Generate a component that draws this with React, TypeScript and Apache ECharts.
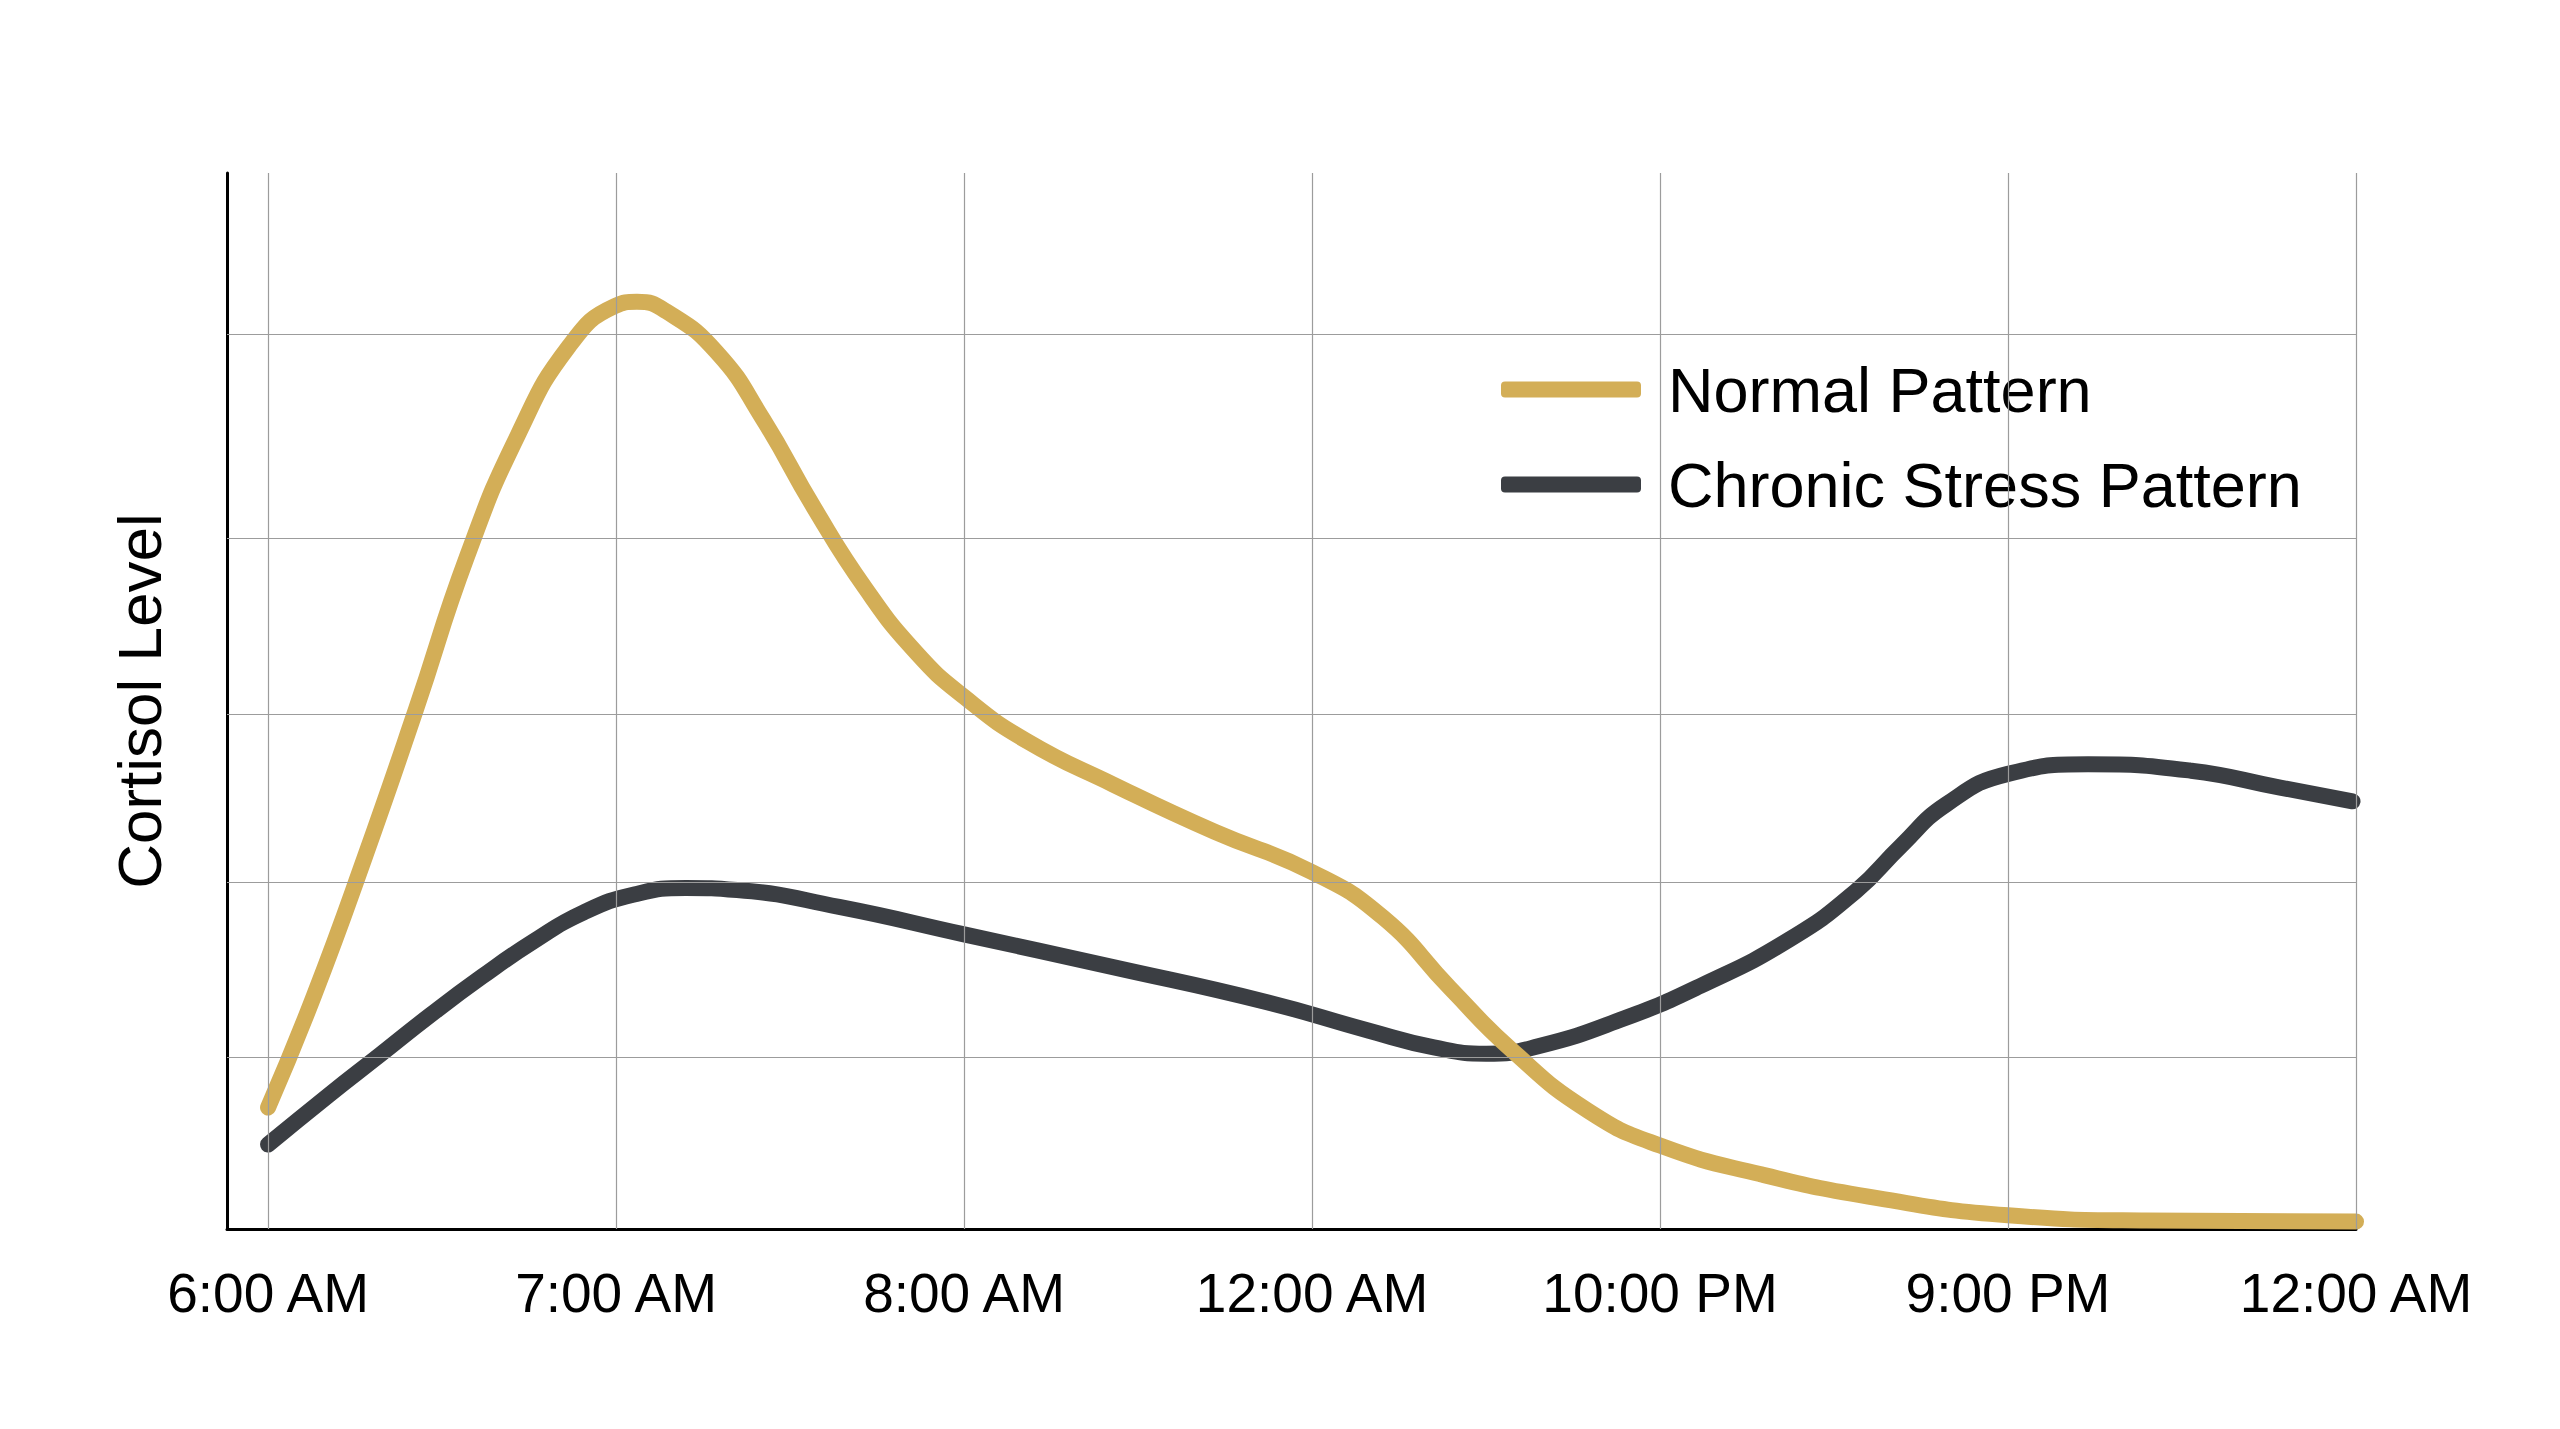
import React, { useEffect, useRef } from "react";
import * as echarts from "echarts";

const timeLabels = ["6:00 AM", "7:00 AM", "8:00 AM", "12:00 AM", "10:00 PM", "9:00 PM", "12:00 AM"];
const timePositions = [0, 1, 2, 3, 4, 5, 6];
const gridLevels = [16.3, 32.8, 48.7, 65.4, 84.7];

const normalPattern: [number, number][] = [
  [0, 11.5], [0.132, 22.1], [0.279, 35.3], [0.425, 49.2], [0.572, 63.7], [0.718, 75.2],
  [0.865, 83.6], [0.997, 87.4], [1.06, 87.8], [1.144, 86.9], [1.29, 83.0], [1.422, 76.7],
  [1.569, 68.3], [1.716, 60.7], [1.862, 54.6], [2.0, 50.4], [2.181, 46.2], [2.428, 42.1],
  [2.721, 37.6], [3.0, 33.8], [3.204, 29.5], [3.397, 22.8], [3.572, 17.0], [3.793, 11.2],
  [4.0, 7.9], [4.287, 5.2], [4.629, 2.9], [5.0, 1.3], [5.397, 0.8], [6.0, 0.7],
];

const stressPattern: [number, number][] = [
  [0, 8.0], [0.175, 12.7], [0.322, 16.5], [0.468, 20.3], [0.615, 23.9], [0.761, 27.2],
  [0.908, 30.0], [1.055, 31.7], [1.201, 32.3], [1.348, 32.1], [1.641, 30.5], [2.0, 27.9],
  [2.428, 24.8], [2.868, 21.5], [3.161, 18.8], [3.35, 17.2], [3.5, 16.6], [3.65, 17.3],
  [3.894, 19.9], [4.115, 23.0], [4.371, 27.4], [4.563, 32.0], [4.693, 36.3], [4.822, 40.2],
  [5.0, 43.1], [5.23, 44.0], [5.526, 43.4], [5.782, 41.8], [5.99, 40.5],
];

const GOLD = "#D3AE57";
const DARK = "#3B3E43";
const FONT = "'Liberation Sans', Arial, Helvetica, sans-serif";

export default function App() {
  const ref = useRef<HTMLDivElement>(null);

  useEffect(() => {
    if (!ref.current) return;
    const chart = echarts.init(ref.current, undefined, { renderer: "svg" });
    const gridLineStyle = { color: "#9c9c9c", width: 1.2, type: "solid" as const };
    chart.setOption({
      animation: false,
      backgroundColor: "#ffffff",
      textStyle: { fontFamily: FONT },
      grid: {
        left: 227,
        right: 204,
        top: 173,
        bottom: 200,
        containLabel: false,
        outerBoundsMode: "none",
      },
      legend: {
        orient: "vertical",
        left: 1496,
        top: 353,
        itemGap: 32,
        icon: "roundRect",
        itemWidth: 140,
        itemHeight: 16,
        data: ["Normal Pattern", "Chronic Stress Pattern"],
        textStyle: {
          fontSize: 63,
          color: "#000",
          fontFamily: FONT,
          padding: [0, 0, 0, 22],
        },
      },
      xAxis: {
        type: "value",
        min: -0.118,
        max: 6,
        axisLine: { show: true, onZero: false, lineStyle: { color: "#000", width: 3 } },
        axisTick: { show: false, customValues: timePositions },
        splitLine: { show: false },
        axisLabel: {
          customValues: timePositions,
          fontSize: 55,
          color: "#000",
          margin: 36,
          fontFamily: FONT,
          showMinLabel: true,
          showMaxLabel: true,
          formatter: (v: number) => {
            const i = Math.round(v);
            return Math.abs(v - i) < 1e-6 && i >= 0 && i < timeLabels.length ? timeLabels[i] : "";
          },
        },
      },
      yAxis: {
        type: "value",
        min: 0,
        max: 100,
        axisLine: { show: true, onZero: false, lineStyle: { color: "#000", width: 3 } },
        axisTick: { show: false },
        axisLabel: { show: false },
        splitLine: { show: false },
        name: "Cortisol Level",
        nameLocation: "middle",
        nameGap: 57,
        nameTextStyle: { fontSize: 62, color: "#000", fontFamily: FONT },
      },
      series: [
        {
          name: "grid",
          type: "line",
          data: [],
          z: 1,
          silent: true,
          markLine: {
            silent: true,
            symbol: "none",
            label: { show: false },
            lineStyle: gridLineStyle,
            emphasis: { disabled: true },
            data: [
              ...timePositions.map((x) => ({ xAxis: x })),
              ...gridLevels.map((y) => ({ yAxis: y })),
            ],
          },
        },
        {
          name: "Chronic Stress Pattern",
          type: "line",
          data: stressPattern,
          z: 2,
          color: DARK,
          itemStyle: { color: DARK },
          showSymbol: false,
          symbol: "none",
          smooth: 0.5,
          lineStyle: { color: DARK, width: 16, cap: "round", join: "round" },
        },
        {
          name: "Normal Pattern",
          type: "line",
          data: normalPattern,
          z: 3,
          color: GOLD,
          itemStyle: { color: GOLD },
          showSymbol: false,
          symbol: "none",
          smooth: 0.5,
          lineStyle: { color: GOLD, width: 16, cap: "round", join: "round" },
        },
      ],
    });
    return () => chart.dispose();
  }, []);

  return (
    <div
      ref={ref}
      style={{ position: "fixed", left: 0, top: 0, width: 2560, height: 1429, background: "#fff" }}
    />
  );
}
